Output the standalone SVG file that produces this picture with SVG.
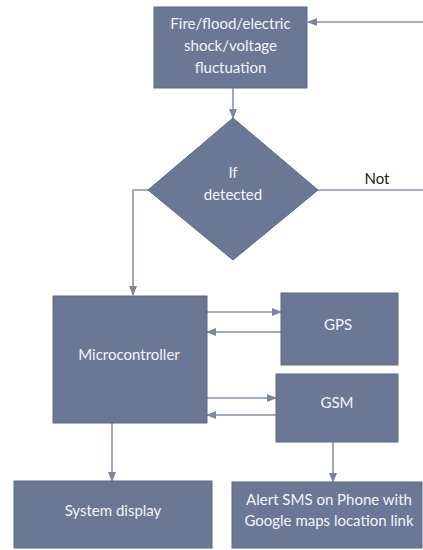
<svg xmlns="http://www.w3.org/2000/svg" width="423" height="550" viewBox="0 0 423 550">
<defs>
<marker id="ah" markerWidth="10" markerHeight="8" refX="9" refY="4" orient="auto" markerUnits="userSpaceOnUse">
<path d="M0,0 L10,4 L0,8 Z" fill="#7d879b"/>
</marker>
<style>
.box{fill:#6a7896;stroke:#5d6a86;stroke-width:1}
.lbl{font-family:Lato,"Open Sans","Liberation Sans",sans-serif;font-size:15px;fill:#f2f4f8;text-anchor:middle}
.ctxt{font-family:Lato,"Open Sans","Liberation Sans",sans-serif;font-size:15px;fill:#222;text-anchor:middle}
.con{stroke:#8a93a5;stroke-width:1.6;fill:none}
</style>
</defs>
<rect width="423" height="550" fill="#ffffff"/>
<g id="connectors">
<path class="con" d="M423,22 L308,22" marker-end="url(#ah)"/>
<path class="con" d="M233,88 L233,118" marker-end="url(#ah)"/>
<path class="con" d="M318,190 L423,190"/>
<path class="con" d="M148,190 L133,190 L133,295" marker-end="url(#ah)"/>
<path class="con" d="M207,312 L281,312" marker-end="url(#ah)"/>
<path class="con" d="M281,332 L207,332" marker-end="url(#ah)"/>
<path class="con" d="M207,398 L276,398" marker-end="url(#ah)"/>
<path class="con" d="M276,415 L207,415" marker-end="url(#ah)"/>
<path class="con" d="M112,423 L112,481" marker-end="url(#ah)"/>
<path class="con" d="M333,442 L333,482" marker-end="url(#ah)"/>
<text class="ctxt" x="377" y="184">Not</text>
</g>
<g id="hazard">
<rect class="box" x="154" y="7" width="153" height="81"/>
<text class="lbl" x="230.5" y="29">Fire/flood/electric</text>
<text class="lbl" x="230.5" y="51">shock/voltage</text>
<text class="lbl" x="230.5" y="73">fluctuation</text>
</g>
<g id="decision">
<polygon class="box" points="233,118 318,190 233,260 148,190"/>
<text class="lbl" x="233" y="178">If</text>
<text class="lbl" x="233" y="200">detected</text>
</g>
<g id="microcontroller">
<rect class="box" x="53" y="296" width="154" height="127"/>
<text class="lbl" x="129" y="360">Microcontroller</text>
</g>
<g id="gps">
<rect class="box" x="281" y="293" width="117" height="72"/>
<text class="lbl" x="338" y="330">GPS</text>
</g>
<g id="gsm">
<rect class="box" x="276" y="374" width="122" height="68"/>
<text class="lbl" x="337" y="408">GSM</text>
</g>
<g id="display">
<rect class="box" x="14" y="481" width="198" height="67"/>
<text class="lbl" x="113" y="516">System display</text>
</g>
<g id="alert">
<rect class="box" x="232" y="482" width="190" height="66"/>
<text class="lbl" x="329" y="505">Alert SMS on Phone with</text>
<text class="lbl" x="329" y="526">Google maps location link</text>
</g>
</svg>
